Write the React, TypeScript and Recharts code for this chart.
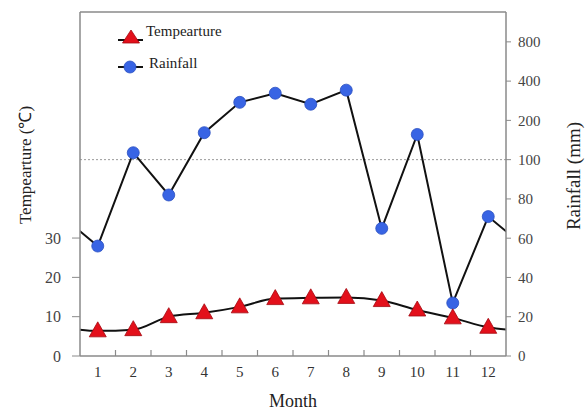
import React from 'react';
import {
  LineChart,
  Line,
  XAxis,
  YAxis,
  ReferenceLine,
  Legend
} from 'recharts';

const months = [1, 2, 3, 4, 5, 6, 7, 8, 9, 10, 11, 12];
const temperature = [6.4, 6.7, 10.0, 11.0, 12.5, 14.6, 14.8, 14.9, 14.1, 11.7, 9.7, 7.3];
const rainfall = [56, 113, 82, 161, 275, 323, 266, 341, 65, 156, 27, 71];
const tempTicks = [0, 10, 20, 30];
const rainTicks = [0, 20, 40, 60, 80, 100, 200, 400, 800];

const FONT = '"Liberation Serif", "Times New Roman", serif';
const AXIS = '#8a8a8a';
const RED = '#e3101b';
const BLUE = '#3864e4';

// rainfall axis: linear up to 100, then doubling steps
const rainIdx = (v: number) => (v <= 100 ? v / 20 : 5 + Math.log2(v / 100));

const row = (m: number, i: number, edge: boolean) => ({
  month: m,
  temp: temperature[i],
  rain: rainIdx(rainfall[i]),
  edge
});

// the year wraps round at both ends of the plot
const data = [
  row(0, 11, true),
  ...months.map((m, i) => row(m, i, false)),
  row(13, 0, true)
];

const xTicks = months.flatMap((m) => (m < 12 ? [m, m + 0.5] : [m]));
const rainTickPos = rainTicks.map(rainIdx);

const MonthTick = (props: any) => {
  const { x, y, payload } = props;
  if (Number.isInteger(payload.value)) {
    return (
      <text x={x} y={y + 16} dy="0.35em" textAnchor="middle" fontSize={15} fontFamily={FONT} fill="#333">
        {payload.value}
      </text>
    );
  }
  return <line x1={x} x2={x} y1={y} y2={y - 6} stroke={AXIS} strokeWidth={1.2} />;
};

const TriangleDot = (props: any) => {
  const { cx, cy, payload } = props;
  if (payload.edge) return <g />;
  return (
    <polygon
      points={`${cx},${cy - 9} ${cx - 8.5},${cy + 6} ${cx + 8.5},${cy + 6}`}
      fill={RED}
      stroke="#a3080f"
      strokeWidth={0.8}
    />
  );
};

const CircleDot = (props: any) => {
  const { cx, cy, payload } = props;
  if (payload.edge) return <g />;
  return <circle cx={cx} cy={cy} r={6} fill={BLUE} stroke="#2a4fc0" strokeWidth={0.8} />;
};

const LegendBox = () => (
  <div style={{ fontFamily: FONT, fontSize: 15, color: '#222' }}>
    <div style={{ display: 'flex', alignItems: 'center', height: 30 }}>
      <svg width={30} height={20}>
        <line x1={2} x2={27} y1={15} y2={15} stroke="#111" strokeWidth={2} />
        <polygon points="15,5 6.5,18 23.5,18" fill={RED} stroke="#a3080f" strokeWidth={0.8} />
      </svg>
      <span style={{ marginTop: -8 }}>Tempearture</span>
    </div>
    <div style={{ display: 'flex', alignItems: 'center', height: 30 }}>
      <svg width={30} height={20}>
        <line x1={2} x2={27} y1={12} y2={12} stroke="#111" strokeWidth={2} />
        <circle cx={14} cy={12} r={6} fill={BLUE} stroke="#2a4fc0" strokeWidth={0.8} />
      </svg>
      <span style={{ marginLeft: 3, marginTop: -4 }}>Rainfall</span>
    </div>
  </div>
);

export default function App() {
  return (
    <div>
      <style>{'body{margin:0}'}</style>
      <LineChart
        width={587}
        height={412}
        data={data}
        margin={{ top: 12, right: 11, bottom: 0, left: 15 }}
      >
        <XAxis
          dataKey="month"
          type="number"
          domain={[0.5, 12.5]}
          allowDataOverflow
          ticks={xTicks}
          interval={0}
          tick={<MonthTick />}
          tickLine={false}
          tickSize={0}
          tickMargin={0}
          height={56}
          axisLine={{ stroke: AXIS, strokeWidth: 1.5 }}
          label={{
            value: 'Month',
            position: 'insideBottom',
            offset: 5,
            style: { fontFamily: FONT, fontSize: 18, fill: '#222' }
          }}
        />
        <YAxis
          yAxisId="left"
          domain={[0, 87.5]}
          ticks={tempTicks}
          interval={0}
          width={65}
          tickSize={8}
          tickMargin={11}
          tickLine={{ stroke: AXIS }}
          axisLine={{ stroke: AXIS, strokeWidth: 1.5 }}
          tick={{ fontFamily: FONT, fontSize: 16, fill: '#444' }}
          label={{
            value: 'Tempearture (℃)',
            angle: -90,
            position: 'insideLeft',
            offset: 10,
            dy: -19,
            style: { textAnchor: 'middle', fontFamily: FONT, fontSize: 17, fill: '#222' }
          }}
        />
        <YAxis
          yAxisId="right"
          orientation="right"
          domain={[0, 8.76]}
          ticks={rainTickPos}
          interval={0}
          width={70}
          tickSize={5}
          tickMargin={7}
          tickLine={{ stroke: AXIS }}
          axisLine={{ stroke: AXIS, strokeWidth: 1.5 }}
          tick={{ fontFamily: FONT, fontSize: 15, fill: '#444', textAnchor: 'start' }}
          tickFormatter={(v: number) => String(rainTicks[rainTickPos.indexOf(v)] ?? '')}
          label={{
            value: 'Rainfall (mm)',
            angle: -90,
            position: 'insideRight',
            offset: 3,
            dy: -8,
            style: { textAnchor: 'middle', fontFamily: FONT, fontSize: 19, fill: '#222' }
          }}
        />
        <ReferenceLine yAxisId="left" y={87.5} stroke={AXIS} strokeWidth={1.5} />
        <ReferenceLine yAxisId="right" y={rainIdx(100)} stroke="#999" strokeDasharray="2 2" />
        <Legend
          layout="vertical"
          align="center"
          verticalAlign="middle"
          wrapperStyle={{ left: 116, top: 20, width: 160 }}
          content={<LegendBox />}
        />
        <Line
          yAxisId="right"
          dataKey="rain"
          type="linear"
          stroke="#111"
          strokeWidth={2}
          dot={<CircleDot />}
          activeDot={false}
          isAnimationActive={false}
        />
        <Line
          yAxisId="left"
          dataKey="temp"
          type="monotone"
          stroke="#111"
          strokeWidth={2}
          dot={<TriangleDot />}
          activeDot={false}
          isAnimationActive={false}
        />
      </LineChart>
    </div>
  );
}
